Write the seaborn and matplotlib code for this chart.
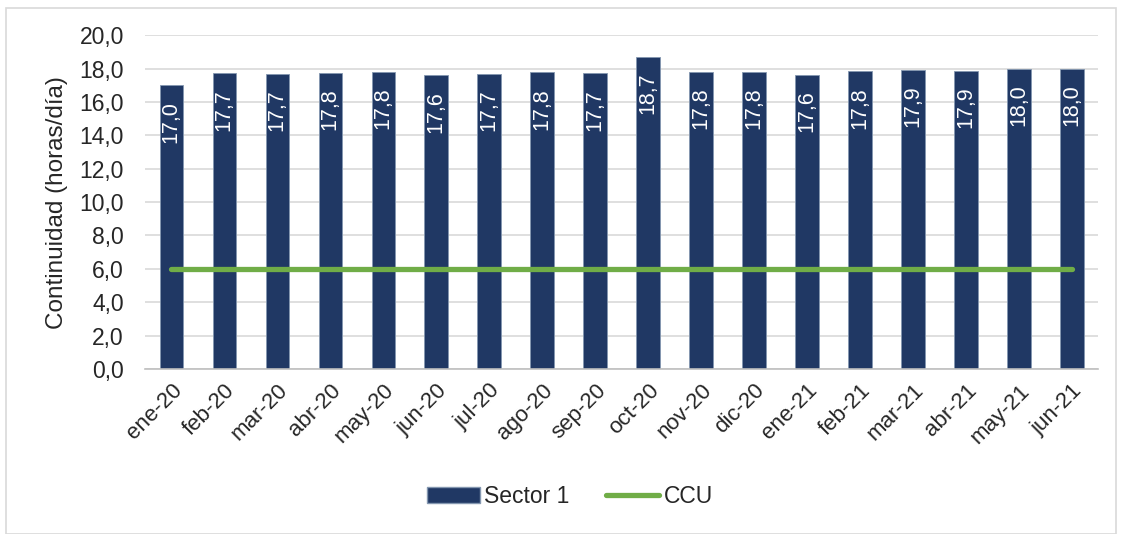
import matplotlib
matplotlib.use("Agg")
import matplotlib.pyplot as plt
import seaborn as sns
import pandas as pd
from matplotlib.ticker import FuncFormatter, FixedLocator
from matplotlib.patches import Patch, Rectangle
from matplotlib.lines import Line2D

# Data
meses = ["ene-20", "feb-20", "mar-20", "abr-20", "may-20", "jun-20", "jul-20",
         "ago-20", "sep-20", "oct-20", "nov-20", "dic-20", "ene-21", "feb-21",
         "mar-21", "abr-21", "may-21", "jun-21"]
sector1 = [17.0, 17.74, 17.7, 17.76, 17.8, 17.62, 17.7, 17.78, 17.74, 18.7,
           17.82, 17.82, 17.64, 17.84, 17.92, 17.88, 18.0, 18.0]
ccu = [6.0] * len(meses)

BAR_COLOR = "#203864"
LINE_COLOR = "#70AD47"

sns.set_style("white")
plt.rcParams["font.family"] = ["Liberation Sans", "DejaVu Sans"]

df = pd.DataFrame({"mes": meses, "sector1": sector1, "ccu": ccu})

fig = plt.figure(figsize=(11.22, 5.34), dpi=100)
ax = fig.add_axes([0.129, 0.309, 0.850, 0.625])

sns.barplot(data=df, x="mes", y="sector1", color=BAR_COLOR, width=0.44,
            saturation=1, edgecolor="#8497B0", linewidth=0.6, ax=ax)
ax.plot(range(len(meses)), df["ccu"], color=LINE_COLOR, linewidth=3.8,
        solid_capstyle="round", zorder=3)

# data labels, rotated, inside the top of each bar
for i, v in enumerate(sector1):
    ax.text(i, v - 0.95, f"{v:.1f}".replace(".", ","), rotation=90,
            ha="center", va="top", color="white", fontsize=15.5, zorder=4)

ax.set_ylim(0, 20)
ax.set_xlim(-0.5, len(meses) - 0.5)
ax.set_yticks(range(0, 21, 2))
ax.yaxis.set_major_formatter(FuncFormatter(lambda v, p: f"{v:.1f}".replace(".", ",")))
ax.grid(axis="y", color="#D9D9D9", linewidth=1.2)
ax.set_axisbelow(True)

ax.set_xlabel("")
ax.set_ylabel("Continuidad (horas/día)", fontsize=17.5, labelpad=8)
ax.tick_params(axis="y", labelsize=16.5, length=0, pad=15)
ax.tick_params(axis="x", which="major", labelsize=16, length=0, pad=8)
plt.setp(ax.get_xticklabels(), rotation=45, ha="right", rotation_mode="anchor")

ax.xaxis.set_minor_locator(FixedLocator([i - 0.5 for i in range(len(meses) + 1)]))
ax.tick_params(axis="x", which="minor", length=6, color="#BFBFBF", width=1)

for s in ["top", "right", "left"]:
    ax.spines[s].set_visible(False)
ax.spines["bottom"].set_color("#BFBFBF")
ax.spines["bottom"].set_linewidth(1.2)

handles = [Patch(facecolor=BAR_COLOR, edgecolor="#8497B0", label="Sector 1"),
           Line2D([0], [0], color=LINE_COLOR, linewidth=3.8,
                  solid_capstyle="round", label="CCU")]
fig.legend(handles=handles, loc="center", bbox_to_anchor=(0.508, 0.07), ncol=2,
           frameon=False, fontsize=16.5, handlelength=2.3, handletextpad=0.2,
           columnspacing=1.6)

fig.patches.append(Rectangle((0.005, 0.0), 0.99, 0.985, transform=fig.transFigure,
                             fill=False, edgecolor="#D9D9D9", linewidth=1.2))

fig.savefig("out.png", dpi=100)
